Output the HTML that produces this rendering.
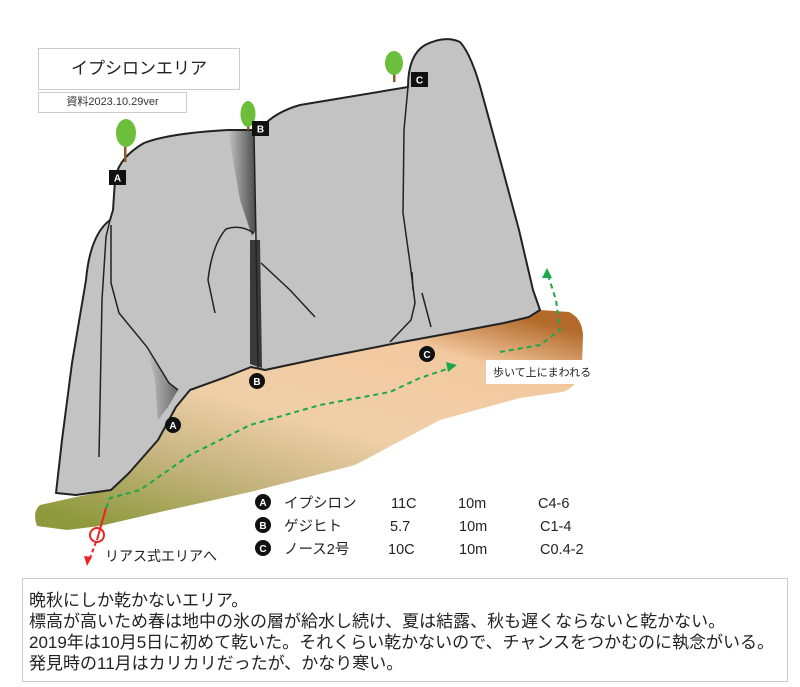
<!DOCTYPE html>
<html><head><meta charset="utf-8"><style>
body{margin:0;background:#fff;width:800px;height:687px;overflow:hidden;font-family:"Liberation Sans","Noto Sans CJK JP",sans-serif;}
svg{position:absolute;left:0;top:0}
.box{position:absolute;border:1px solid #ccc;background:#fff;box-sizing:border-box}
</style></head><body>
<svg width="800" height="687" viewBox="0 0 800 687">
<defs>
<linearGradient id="g" x1="0.85" y1="0" x2="0.15" y2="1">
<stop offset="0" stop-color="#b36a2a"/>
<stop offset="0.18" stop-color="#f3c9a0"/>
<stop offset="0.5" stop-color="#efcfa8"/>
<stop offset="0.72" stop-color="#c9b683"/>
<stop offset="1" stop-color="#8f9a3e"/>
</linearGradient>
<linearGradient id="sh" x1="0" y1="0" x2="1" y2="0">
<stop offset="0" stop-color="#c3c3c3"/><stop offset="1" stop-color="#4a4a4a"/>
</linearGradient>
<linearGradient id="sh2" x1="0" y1="0" x2="1" y2="0">
<stop offset="0" stop-color="#c3c3c3"/><stop offset="1" stop-color="#6a6a6a"/>
</linearGradient>
</defs>
<path d="M40,505 L76,497 L111,490 L129,473 L158,440 L176,407 L190,390 L226,377 L251,367 L265,370 L326,357 L397,343 L451,333 L504,323 L540,310 L569,312 Q582,318 583,335 L582,365 Q578,388 562,392 L520,398 L440,420 L355,465 L250,492 L160,512 L100,526 L67,530 L37,526 Q32,512 40,505 Z" fill="url(#g)"/>
<path d="M56,493 L62,440 L72,363 L86,280 Q90,235 110,220 L113,210 L115,180 Q118,158 144,143 Q170,133 229,130 L254,130 L261,128 Q275,112 300,105 L408,87 Q408,55 425,45 Q445,35 460,42 Q472,55 483,97 L501,163 L519,230 L533,290 L540,310 L529,317 L504,323 L451,333 L397,343 L326,357 L265,370 L251,367 L226,377 L190,390 L176,407 L158,440 L129,473 L111,490 L76,495 Z" fill="#c3c3c3" stroke="#222" stroke-width="2" stroke-linejoin="round"/>
<path d="M228,131 L254,131 L256,230 L252,236 L240,200 Z" fill="url(#sh)"/>
<path d="M250,240 L260,240 L262,368 L250,364 Z" fill="#3a3a3a"/>
<path d="M147,347 L169,383 L178,390 L168,407 L158,420 L155,380 Z" fill="url(#sh2)"/>
<g fill="none" stroke="#222" stroke-width="1.5">
<path d="M254,133 L256,240 L258,368"/>
<path d="M408,87 L404,130 L403,213 L410,263 L415,303 L411,320 L390,342"/>
<path d="M110,220 L106,237 L102,300 L99,457"/>
<path d="M111,225 L111,283 L119,313 L147,347 L169,383 L178,390"/>
<path d="M254,233 Q240,224 226,229 Q212,245 208,280 L215,313"/>
<path d="M261,263 L290,290 L315,317"/>
<path d="M412,272 L413,290"/>
<path d="M422,293 L431,327"/>
</g>
<g fill="none" stroke="#1aa84a" stroke-width="2" stroke-dasharray="5,4">
<path d="M106,508 L110,498 L140,490 L190,455 L250,425 L320,405 L390,392 L420,378 L450,368"/>
<path d="M500,352 L540,345 L560,330 L556,300 L548,275"/>
</g>
<path d="M457,365 L446,362 L448,372 Z" fill="#1aa84a"/>
<path d="M547,268 L542,278 L552,278 Z" fill="#1aa84a"/>
<path d="M106,508 L97,540" stroke="#e22" stroke-width="2"/>
<circle cx="97" cy="535" r="7" fill="none" stroke="#e22" stroke-width="2"/>
<path d="M96,542 L90,558" stroke="#e22" stroke-width="2" stroke-dasharray="4,3"/>
<path d="M87,566 L84,556 L92,557 Z" fill="#e22"/>
<g>
<rect x="124" y="140" width="2.5" height="22" fill="#8b5a2b"/><ellipse cx="126" cy="133" rx="10" ry="14" fill="#6cbf3a"/>
<rect x="247" y="112" width="2.5" height="18" fill="#8b5a2b"/><ellipse cx="248" cy="114" rx="7.5" ry="13" fill="#6cbf3a"/>
<rect x="393" y="64" width="2.5" height="18" fill="#8b5a2b"/><ellipse cx="394" cy="63" rx="9" ry="12" fill="#6cbf3a"/>
</g>
<g font-family="Liberation Sans, sans-serif" font-weight="bold" font-size="10" fill="#fff" text-anchor="middle">
<rect x="109" y="170" width="17" height="15" fill="#111"/><text x="117.5" y="181.5">A</text>
<rect x="252" y="121" width="17" height="15" fill="#111"/><text x="260.5" y="132.5">B</text>
<rect x="411" y="72" width="17" height="15" fill="#111"/><text x="419.5" y="83.5">C</text>
<circle cx="173" cy="425" r="8" fill="#111"/><text x="173" y="429">A</text>
<circle cx="257" cy="381" r="8" fill="#111"/><text x="257" y="385">B</text>
<circle cx="427" cy="354" r="8" fill="#111"/><text x="427" y="358">C</text>
<circle cx="263" cy="502" r="8" fill="#111"/><text x="263" y="506">A</text>
<circle cx="263" cy="525" r="8" fill="#111"/><text x="263" y="529">B</text>
<circle cx="263" cy="548" r="8" fill="#111"/><text x="263" y="552">C</text>
</g>
<rect x="486" y="360" width="118" height="24" fill="#fff"/>
<g font-family="Liberation Sans, Noto Sans CJK JP, sans-serif" fill="#222">
<text x="493" y="376" font-size="11">歩いて上にまわれる</text>
<text x="105" y="561" font-size="14">リアス式エリアへ</text>
<g font-size="14.5">
<text x="284" y="508">イプシロン</text><text x="391" y="508">11C</text><text x="458" y="508">10m</text><text x="538" y="508">C4-6</text>
<text x="284" y="531">ゲジヒト</text><text x="390" y="531">5.7</text><text x="459" y="531">10m</text><text x="540" y="531">C1-4</text>
<text x="284" y="554">ノース2号</text><text x="388" y="554">10C</text><text x="459" y="554">10m</text><text x="540" y="554">C0.4-2</text>
</g>
</g>
</svg>
<div class="box" style="left:38px;top:48px;width:202px;height:42px;font-size:17px;text-align:center;line-height:40px;color:#222">イプシロンエリア</div>
<div class="box" style="left:38px;top:92px;width:149px;height:21px;font-size:11px;text-align:center;line-height:19px;color:#333">資料2023.10.29ver</div>
<div class="box" style="left:22px;top:578px;width:766px;height:104px;font-size:17px;line-height:21px;padding:11px 0 0 6px;color:#222;white-space:nowrap">晩秋にしか乾かないエリア。<br>標高が高いため春は地中の氷の層が給水し続け、夏は結露、秋も遅くならないと乾かない。<br>2019年は10月5日に初めて乾いた。それくらい乾かないので、チャンスをつかむのに執念がいる。<br>発見時の11月はカリカリだったが、かなり寒い。</div>
</body></html>
